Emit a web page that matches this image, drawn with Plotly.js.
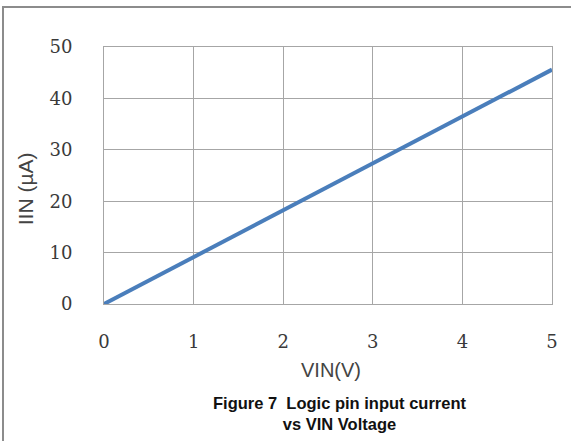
<!DOCTYPE html>
<html>
<head>
<meta charset="utf-8">
<script src="https://cdn.plot.ly/plotly-3.0.1.min.js"></script>
<style>
html,body{margin:0;padding:0;background:#fff;overflow:hidden;}
#chart{width:571px;height:441px;position:absolute;left:0;top:0;}
#frame{position:absolute;left:2px;top:6px;width:600px;height:460px;border-left:2px solid #8c8c8c;border-top:2px solid #8c8c8c;pointer-events:none;}
</style>
</head>
<body>
<div id="chart"></div>
<div id="frame"></div>
<script>
const vin = [0, 1, 2, 3, 4, 5];
const iin = [0, 9.1, 18.2, 27.4, 36.5, 45.6];
const xTicks = [0, 1, 2, 3, 4, 5];
const yTicks = [0, 10, 20, 30, 40, 50];
const xTitle = 'VIN(V)';
const yTitle = 'IIN (µA)';
const caption = 'Figure 7  Logic pin input current<br>vs VIN Voltage';

const tickFont = {family: '"DejaVu Serif", "Liberation Serif", serif', size: 18, color: '#3a3a3a'};
const titleFont = {family: '"Liberation Sans", Arial, sans-serif', size: 20, color: '#444'};

Plotly.newPlot('chart', [{
  x: vin, y: iin, type: 'scatter', mode: 'lines',
  line: {color: '#4a7ebb', width: 4}, hoverinfo: 'skip'
}], {
  width: 571, height: 441,
  margin: {l: 104, r: 19, t: 47, b: 137},
  paper_bgcolor: '#fff', plot_bgcolor: '#fff',
  showlegend: false,
  xaxis: {
    range: [0, 5], tickvals: xTicks, ticktext: xTicks.map(String),
    showgrid: true, gridcolor: '#a6a6a6', gridwidth: 1,
    zeroline: false, showline: true, linecolor: '#a6a6a6', mirror: true,
    ticks: '', ticklabelstandoff: 21, tickfont: tickFont
  },
  yaxis: {
    range: [0, 50], tickvals: yTicks, ticktext: yTicks.map(String),
    showgrid: true, gridcolor: '#a6a6a6', gridwidth: 1,
    zeroline: false, showline: true, linecolor: '#a6a6a6', mirror: true,
    ticks: '', ticklabelstandoff: 27, tickfont: tickFont
  },
  annotations: [{
    text: xTitle, xref: 'paper', yref: 'paper',
    x: 0.507, y: -0.257, xanchor: 'center', yanchor: 'middle', showarrow: false,
    font: titleFont
  }, {
    text: yTitle, xref: 'paper', yref: 'paper', textangle: -90,
    x: -0.176, y: 0.447, xanchor: 'center', yanchor: 'middle', showarrow: false,
    font: {family: titleFont.family, size: 21, color: '#444'}
  }, {
    text: '<b>' + caption + '</b>', xref: 'paper', yref: 'paper',
    x: 0.527, y: -0.344, xanchor: 'center', yanchor: 'top', showarrow: false,
    font: {family: '"Liberation Sans", Arial, sans-serif', size: 16.5, color: '#111'},
    align: 'center'
  }]
}, {displayModeBar: false, staticPlot: true});
</script>
</body>
</html>
